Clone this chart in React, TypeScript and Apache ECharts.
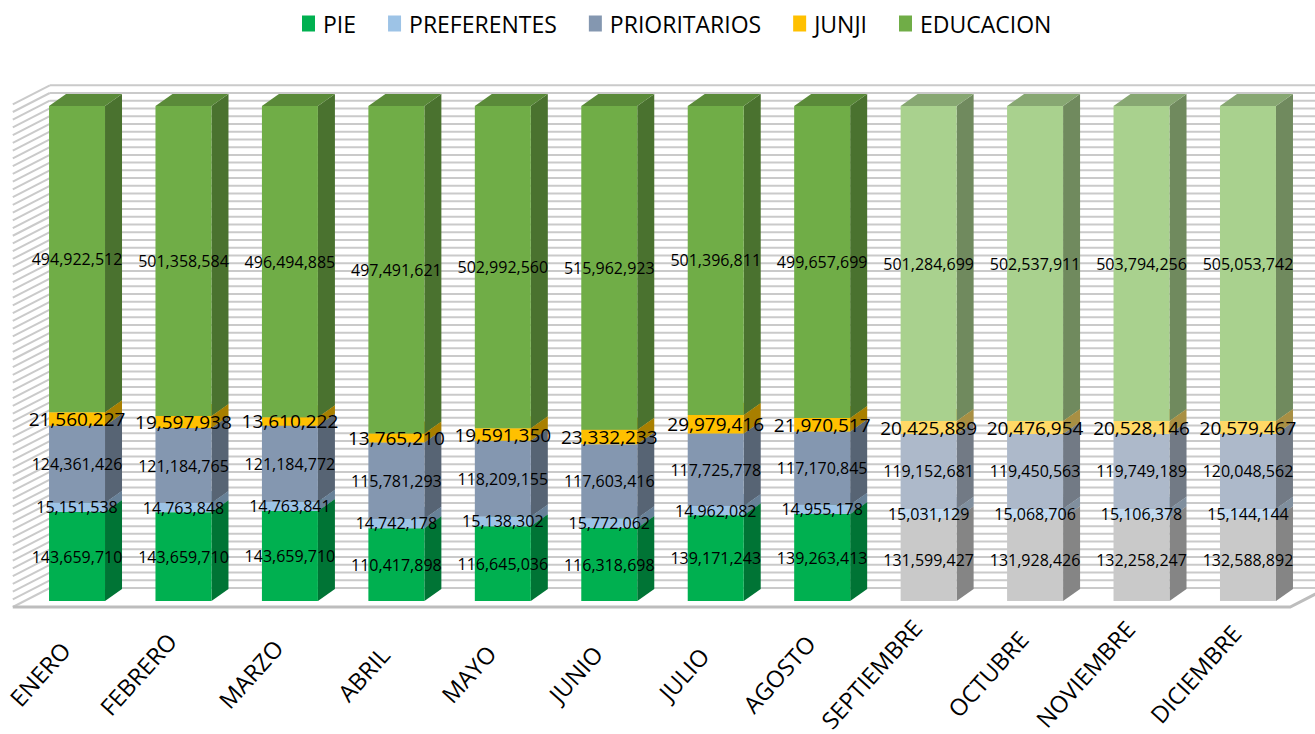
import React, { useEffect, useRef } from "react";
import * as echarts from "echarts";

const MONTHS = [
  "ENERO", "FEBRERO", "MARZO", "ABRIL", "MAYO", "JUNIO",
  "JULIO", "AGOSTO", "SEPTIEMBRE", "OCTUBRE", "NOVIEMBRE", "DICIEMBRE",
];
const SERIES_NAMES = ["PIE", "PREFERENTES", "PRIORITARIOS", "JUNJI", "EDUCACION"];

const PIE = [143659710, 143659710, 143659710, 110417898, 116645036, 116318698, 139171243, 139263413, 131599427, 131928426, 132258247, 132588892];
const PREFERENTES = [15151538, 14763848, 14763841, 14742178, 15138302, 15772062, 14962082, 14955178, 15031129, 15068706, 15106378, 15144144];
const PRIORITARIOS = [124361426, 121184765, 121184772, 115781293, 118209155, 117603416, 117725778, 117170845, 119152681, 119450563, 119749189, 120048562];
const JUNJI = [21560227, 19597938, 13610222, 13765210, 19591350, 23332233, 29979416, 21970517, 20425889, 20476954, 20528146, 20579467];
const EDUCACION = [494922512, 501358584, 496494885, 497491621, 502992560, 515962923, 501396811, 499657699, 501284699, 502537911, 503794256, 505053742];
// months shown as projections (lighter colours)
const PROJECTED = [false, false, false, false, false, false, false, false, true, true, true, true];

const ALL = [PIE, PREFERENTES, PRIORITARIOS, JUNJI, EDUCACION];

const COLORS = ["#00B050", "#9DC3E6", "#8497B0", "#FFC000", "#70AD47"];
const LIGHT = ["#C9C9C9", "#C2D9EF", "#ADB9CA", "#FFD966", "#A9D18E"];
const FONT = "'Open Sans', 'Liberation Sans', sans-serif";

const BAR_RATIO = 0.526;
const DX = 17, DY = -12; // bar depth
const DXF = -11, DYF = 6; // front plane of walls
const DXB = 26, DYB = -13; // back plane of walls
const GRID_STEPS = 64;
const SIDE = 0.66, TOP = 0.8;
const AXIS_FONT = 23.5;
const AXIS_ROT = (48 * Math.PI) / 180;
const AXIS_END_DX = -5, AXIS_CENTER_DY = 73;

function shade(hex: string, f: number) {
  const n = parseInt(hex.slice(1), 16);
  const r = Math.round(((n >> 16) & 255) * f);
  const g = Math.round(((n >> 8) & 255) * f);
  const b = Math.round((n & 255) * f);
  return `rgb(${r},${g},${b})`;
}

const totals = MONTHS.map((_, i) => ALL.reduce((a, s) => a + s[i], 0));

function stacked(sIdx: number) {
  return MONTHS.map((_, i) => {
    let before = 0;
    for (let k = 0; k < sIdx; k++) before += ALL[k][i];
    const start = (before / totals[i]) * 100;
    const end = ((before + ALL[sIdx][i]) / totals[i]) * 100;
    return [i, start, end];
  });
}

const labelData: number[][] = [];
ALL.forEach((arr, s) => {
  const st = stacked(s);
  arr.forEach((v, i) => {
    labelData.push([i, (st[i][1] + st[i][2]) / 2, v, s]);
  });
});

export default function App() {
  const ref = useRef<HTMLDivElement>(null);
  useEffect(() => {
    if (!ref.current) return;
    const chart = echarts.init(ref.current, undefined, { renderer: "svg" });
    const ctx = document.createElement("canvas").getContext("2d") as CanvasRenderingContext2D;
    ctx.font = `${AXIS_FONT}px ${FONT}`;

    const wallSeries: any = {
      type: "custom",
      name: "walls",
      silent: true,
      data: [[0, 0]],
      z: 1,
      renderItem: (params: any) => {
        const cs = params.coordSys;
        const children: any[] = [];
        const yOf = (k: number) => cs.y + cs.height - (k / GRID_STEPS) * cs.height;
        for (let k = 0; k <= GRID_STEPS + 1; k++) {
          const y = yOf(k);
          children.push({
            type: "line",
            shape: { x1: cs.x + DXB, y1: y + DYB, x2: cs.x + cs.width + DXB + 20, y2: y + DYB },
            style: { stroke: "#cacaca", lineWidth: 2 },
          });
          children.push({
            type: "line",
            shape: { x1: cs.x + DXF, y1: y + DYF, x2: cs.x + DXB, y2: y + DYB },
            style: { stroke: "#cacaca", lineWidth: 2 },
          });
        }
        const yb = cs.y + cs.height;
        children.push({
          type: "polyline",
          shape: {
            points: [
              [cs.x + DXF, yb + DYF],
              [cs.x + cs.width + DXF, yb + DYF],
              [cs.x + cs.width + DXB, yb + DYB],
            ],
          },
          style: { stroke: "#bdbdbd", lineWidth: 3, fill: null },
        });
        return { type: "group", children };
      },
    };

    const barSeries = SERIES_NAMES.map((name, sIdx) => ({
      type: "custom",
      name,
      z: 2,
      itemStyle: { color: COLORS[sIdx] },
      data: stacked(sIdx),
      renderItem: (params: any, api: any) => {
        const i = api.value(0);
        const s = api.value(1);
        const e = api.value(2);
        const pb = api.coord([i, s]);
        const pt = api.coord([i, e]);
        const bw = api.size([1, 0])[0] * BAR_RATIO;
        const l = pb[0] - bw / 2;
        const r = pb[0] + bw / 2;
        const yb = pb[1];
        const yt = pt[1];
        const base = PROJECTED[i] ? LIGHT[sIdx] : COLORS[sIdx];
        return {
          type: "group",
          children: [
            {
              type: "polygon",
              shape: { points: [[r, yb], [r + DX, yb + DY], [r + DX, yt + DY], [r, yt]] },
              style: { fill: shade(base, SIDE) },
            },
            {
              type: "polygon",
              shape: { points: [[l, yt], [r, yt], [r + DX, yt + DY], [l + DX, yt + DY]] },
              style: { fill: shade(base, TOP) },
            },
            {
              type: "rect",
              shape: { x: l, y: yt, width: bw, height: yb - yt },
              style: { fill: base },
            },
          ],
        };
      },
    }));

    const labelSeries: any = {
      type: "custom",
      name: "labels",
      silent: true,
      z: 5,
      data: labelData,
      renderItem: (params: any, api: any) => {
        const p = api.coord([api.value(0), api.value(1)]);
        const s = api.value(3);
        return {
          type: "text",
          style: {
            text: Number(api.value(2)).toLocaleString("en-US"),
            x: p[0],
            y: p[1],
            align: "center",
            verticalAlign: "middle",
            fontSize: s === 3 ? 19 : 16,
            fontFamily: FONT,
            fill: "#000",
          },
        };
      },
    };

    const axisLabelSeries: any = {
      type: "custom",
      name: "axisLabels",
      silent: true,
      z: 5,
      data: MONTHS.map((_, i) => [i, 0]),
      renderItem: (params: any, api: any) => {
        const i = api.value(0);
        const p = api.coord([i, 0]);
        const L = ctx.measureText(MONTHS[i]).width;
        const h = AXIS_FONT * 0.75;
        const w = L * Math.cos(AXIS_ROT) + h * Math.sin(AXIS_ROT);
        return {
          type: "text",
          x: p[0] + AXIS_END_DX - w / 2,
          y: p[1] + AXIS_CENTER_DY,
          rotation: AXIS_ROT,
          style: {
            text: MONTHS[i],
            x: 0,
            y: 0,
            align: "center",
            verticalAlign: "middle",
            fontSize: AXIS_FONT,
            fontFamily: FONT,
            fill: "#000",
          },
        };
      },
    };

    chart.setOption({
      animation: false,
      backgroundColor: "#fff",
      legend: {
        left: 297,
        top: 7,
        itemWidth: 13,
        itemHeight: 16,
        itemGap: 32,
        icon: "rect",
        textStyle: { fontSize: 23, fontFamily: FONT, color: "#000", padding: [0, 0, 0, 3] },
        data: SERIES_NAMES.map((n, i) => ({ name: n, itemStyle: { color: COLORS[i] } })),
      },
      grid: {
        left: 23.8,
        right: 13.8,
        top: 106,
        bottom: 133,
        containLabel: false,
        outerBoundsMode: "none",
      },
      xAxis: {
        type: "category",
        data: MONTHS,
        axisLine: { show: false },
        axisTick: { show: false },
        axisLabel: { show: false },
      },
      yAxis: { type: "value", min: 0, max: 100, show: false, splitLine: { show: false } },
      series: [wallSeries, ...barSeries, labelSeries, axisLabelSeries],
    });
    return () => chart.dispose();
  }, []);
  return (
    <div
      ref={ref}
      style={{ position: "fixed", left: 0, top: 0, width: 1315, height: 734, background: "#fff" }}
    />
  );
}
